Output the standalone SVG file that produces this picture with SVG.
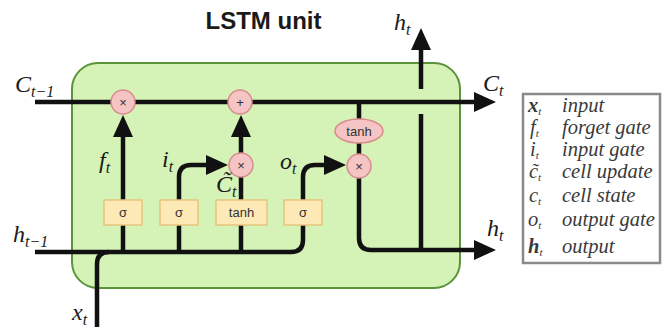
<svg xmlns="http://www.w3.org/2000/svg" width="667" height="331" viewBox="0 0 667 331">
<style>
.ln{fill:none;stroke:#111;stroke-width:4.5}
.op{fill:#f5c4c4;stroke:#d98c8c;stroke-width:1.5}
.gate{fill:#fde9b5;stroke:#e8c47f;stroke-width:1.5}
.ot{font-family:"Liberation Sans",Arial,sans-serif;font-size:13px;fill:#333;text-anchor:middle}
.m{font-family:"Liberation Serif","Times New Roman",serif;font-style:italic;font-size:24px;fill:#1a1a1a}
.s{font-size:16px}
.lg{font-family:"Liberation Serif","Times New Roman",serif;font-style:italic;font-size:20.5px;fill:#3a3a3a}
.ls{font-size:11px}
</style>
<defs>
<marker id="ah" markerUnits="userSpaceOnUse" markerWidth="22" markerHeight="20" refX="1" refY="10" orient="auto" overflow="visible">
<path d="M0,0 L22,10 L0,20 Z" fill="#111"/>
</marker>
</defs>
<rect width="667" height="331" fill="#fff"/>
<text x="263.5" y="29" font-family="'Liberation Sans',Arial,sans-serif" font-weight="bold" font-size="24" fill="#1a1a1a" text-anchor="middle">LSTM unit</text>
<g id="cell">
<rect x="72" y="63" width="388" height="225" rx="26" fill="#d5f3b6" stroke="#5a9438" stroke-width="2"/>
</g>
<g id="connectors">
<path class="ln" d="M35,102 H475" marker-end="url(#ah)"/>
<path class="ln" d="M35,252 H291 Q303,252 303,240 V177 Q303,165 315,165 H325" marker-end="url(#ah)"/>
<path class="ln" d="M97,327 V264 Q97,252 109,252"/>
<path class="ln" d="M123,252 V136" marker-end="url(#ah)"/>
<path class="ln" d="M179,252 V177 Q179,165 191,165 H207" marker-end="url(#ah)"/>
<path class="ln" d="M241,252 V177"/>
<path class="ln" d="M241,153 V136" marker-end="url(#ah)"/>
<path class="ln" d="M359,102 V120"/>
<path class="ln" d="M359,142 V155"/>
<path class="ln" d="M359,177 V238 Q359,250 371,250 H475" marker-end="url(#ah)"/>
<path class="ln" d="M421,250 V114"/>
<path class="ln" d="M421,89 V49" marker-end="url(#ah)"/>
</g>
<g id="forget-mul"><circle class="op" cx="123" cy="102" r="12"/><text class="ot" x="123" y="106.5">×</text></g>
<g id="cell-add"><circle class="op" cx="240" cy="102" r="12"/><text class="ot" x="240" y="106.5">+</text></g>
<g id="input-mul"><circle class="op" cx="241" cy="165" r="12"/><text class="ot" x="241" y="169.5">×</text></g>
<g id="output-mul"><circle class="op" cx="359" cy="166" r="12"/><text class="ot" x="359" y="170.5">×</text></g>
<g id="output-tanh"><ellipse class="op" cx="359" cy="131" rx="24" ry="12"/><text class="ot" x="359" y="135.5">tanh</text></g>
<g id="forget-gate"><rect class="gate" x="104" y="200" width="38" height="25"/><text class="ot" x="123" y="217">σ</text></g>
<g id="input-gate"><rect class="gate" x="160" y="200" width="38" height="25"/><text class="ot" x="179" y="217">σ</text></g>
<g id="cell-update"><rect class="gate" x="216" y="200" width="51" height="25"/><text class="ot" x="241.5" y="217">tanh</text></g>
<g id="output-gate"><rect class="gate" x="284" y="200" width="38" height="25"/><text class="ot" x="303" y="217">σ</text></g>
<g id="labels">
<text class="m" x="15" y="92">C<tspan class="s" dy="5">t−1</tspan></text>
<text class="m" x="13" y="242">h<tspan class="s" dy="5">t−1</tspan></text>
<text class="m" x="72" y="320">x<tspan class="s" dy="5">t</tspan></text>
<text class="m" x="99" y="168">f<tspan class="s" dy="5">t</tspan></text>
<text class="m" x="162" y="167">i<tspan class="s" dy="5">t</tspan></text>
<text class="m" x="216" y="192">C&#x303;<tspan class="s" dy="5">t</tspan></text>
<text class="m" x="280" y="169">o<tspan class="s" dy="5">t</tspan></text>
<text class="m" x="394" y="30">h<tspan class="s" dy="5">t</tspan></text>
<text class="m" x="483" y="91">C<tspan class="s" dy="5">t</tspan></text>
<text class="m" x="487" y="236">h<tspan class="s" dy="5">t</tspan></text>
</g>
<g id="legend">
<rect x="523" y="94" width="137" height="169" fill="#fff" stroke="#8a8a8a" stroke-width="2.5"/>
<text class="lg" x="528" y="112"><tspan font-weight="bold">x</tspan><tspan class="ls" dy="3">t</tspan></text><text class="lg" x="562" y="112">input</text>
<text class="lg" x="530" y="134">f<tspan class="ls" dy="3">t</tspan></text><text class="lg" x="562" y="134">forget gate</text>
<text class="lg" x="530" y="156">i<tspan class="ls" dy="3">t</tspan></text><text class="lg" x="562" y="156">input gate</text>
<text class="lg" x="529" y="178">c&#x303;<tspan class="ls" dy="3">t</tspan></text><text class="lg" x="562" y="178">cell update</text>
<text class="lg" x="529" y="202">c<tspan class="ls" dy="3">t</tspan></text><text class="lg" x="562" y="202">cell state</text>
<text class="lg" x="528" y="226">o<tspan class="ls" dy="3">t</tspan></text><text class="lg" x="562" y="226">output gate</text>
<text class="lg" x="528" y="253"><tspan font-weight="bold">h</tspan><tspan class="ls" dy="3">t</tspan></text><text class="lg" x="562" y="253">output</text>
</g>
</svg>
